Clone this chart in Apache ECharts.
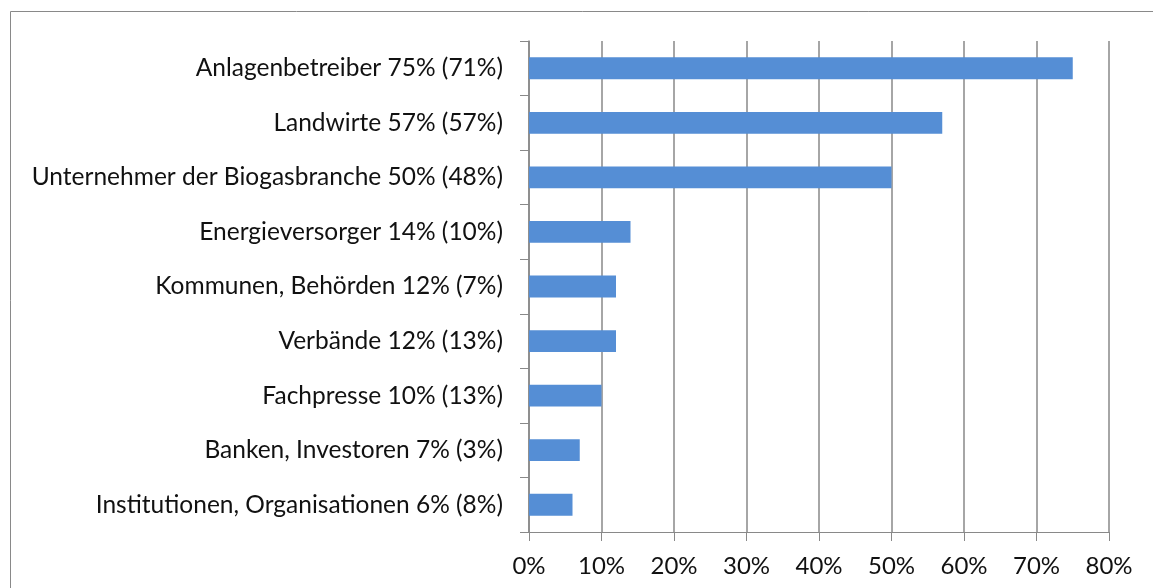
<!DOCTYPE html>
<html>
<head>
<meta charset="utf-8">
<script src="https://cdn.jsdelivr.net/npm/echarts@6/dist/echarts.min.js"></script>
<style>
  html, body { margin: 0; padding: 0; background: #fff; }
  #chart { width: 1153px; height: 588px; }
</style>
</head>
<body>
<div id="chart"></div>
<script>
const categories = [
  "Anlagenbetreiber",
  "Landwirte",
  "Unternehmer der Biogasbranche",
  "Energieversorger",
  "Kommunen, Behörden",
  "Verbände",
  "Fachpresse",
  "Banken, Investoren",
  "Institutionen, Organisationen",
];
const shares = [75, 57, 50, 14, 12, 12, 10, 7, 6];
const previousShares = [71, 57, 48, 10, 7, 13, 13, 3, 8];
const xTicks = [0, 10, 20, 30, 40, 50, 60, 70, 80];

const gray = "#898989";
const chart = echarts.init(document.getElementById("chart"), null, { renderer: "canvas" });

chart.setOption({
  animation: false,
  textStyle: { fontFamily: "Lato, 'Open Sans', sans-serif" },
  graphic: [
    {
      type: "rect",
      shape: { x: 10.5, y: 11.5, width: 1160, height: 600 },
      style: { fill: "none", stroke: gray, lineWidth: 1 },
      silent: true,
    },
  ],
  grid: { left: 529, right: 44, top: 41, bottom: 56 },
  xAxis: {
    type: "value",
    min: xTicks[0],
    max: xTicks[xTicks.length - 1],
    interval: 10,
    axisLine: { show: true, lineStyle: { color: gray, width: 1 } },
    axisTick: { show: true, length: 9, lineStyle: { color: gray } },
    splitLine: { show: true, lineStyle: { color: gray, width: 1.5 } },
    axisLabel: {
      color: "#111",
      fontSize: 24,
      margin: 22,
      formatter: (v) => v + "%",
    },
  },
  yAxis: {
    type: "category",
    inverse: true,
    data: categories,
    axisLine: { show: true, lineStyle: { color: gray, width: 1.5 } },
    axisTick: { show: true, length: 9, lineStyle: { color: gray } },
    axisLabel: {
      color: "#111",
      fontSize: 24.5,
      margin: 26,
      formatter: (name, i) => `${name} ${shares[i]}% (${previousShares[i]}%)`,
    },
  },
  series: [
    {
      type: "bar",
      data: shares,
      barWidth: "40%",
      itemStyle: { color: "#558ed5" },
    },
  ],
});
</script>
</body>
</html>
